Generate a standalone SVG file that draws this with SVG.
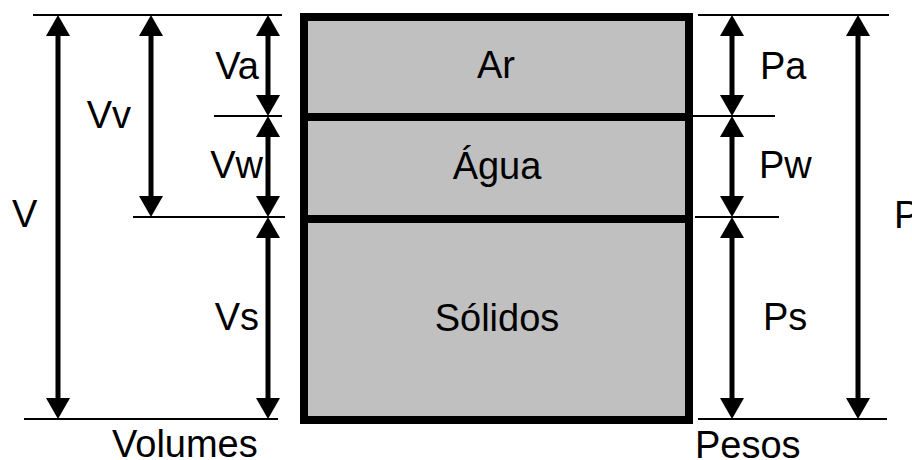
<svg xmlns="http://www.w3.org/2000/svg" width="912" height="460" viewBox="0 0 912 460">
<defs>
<style>
text{font-family:"Liberation Sans",Arial,sans-serif;font-size:38px;fill:#000}
.c{text-anchor:middle}
.e{text-anchor:end}
.thin{stroke:#000;stroke-width:2;fill:none}
.arr{stroke:#000;stroke-width:5;fill:none;marker-start:url(#ah);marker-end:url(#ah)}
.layer{fill:#C0C0C0;stroke:none}
.edge{stroke:#000;stroke-width:8;fill:none}
</style>
<marker id="ah" viewBox="0 0 21 24" markerWidth="21" markerHeight="24" markerUnits="userSpaceOnUse" refX="0" refY="12" orient="auto-start-reverse">
<path d="M0,0 L21,12 L0,24 Z" fill="#000"/>
</marker>
</defs>
<rect width="912" height="460" fill="#fff"/>
<g id="ar">
<rect class="layer" x="304" y="17" width="385" height="100"/>
<text class="c" x="496" y="78">Ar</text>
</g>
<g id="agua">
<rect class="layer" x="304" y="117" width="385" height="102"/>
<text class="c" x="497" y="179">Água</text>
</g>
<g id="solidos">
<rect class="layer" x="304" y="219" width="385" height="201"/>
<text class="c" x="497" y="331">Sólidos</text>
</g>
<g id="outline">
<rect class="edge" x="304" y="17" width="385" height="403"/>
<line class="edge" x1="304" y1="117" x2="689" y2="117"/>
<line class="edge" x1="304" y1="219" x2="689" y2="219"/>
</g>
<g id="connectors">
<line class="thin" x1="33" y1="15" x2="282" y2="15"/>
<line class="thin" x1="214" y1="116" x2="282" y2="116"/>
<line class="thin" x1="133" y1="217" x2="285" y2="217"/>
<line class="thin" x1="24" y1="419" x2="278" y2="419"/>
<line class="thin" x1="698" y1="15" x2="889" y2="15"/>
<line class="thin" x1="692" y1="116" x2="775" y2="116"/>
<line class="thin" x1="695" y1="217" x2="779" y2="217"/>
<line class="thin" x1="698" y1="419" x2="887" y2="419"/>
<line class="arr" x1="58" y1="36" x2="58" y2="398"/>
<line class="arr" x1="151" y1="36" x2="151" y2="196"/>
<line class="arr" x1="268" y1="36" x2="268" y2="95"/>
<line class="arr" x1="268" y1="137" x2="268" y2="196"/>
<line class="arr" x1="268" y1="238" x2="268" y2="398"/>
<line class="arr" x1="732" y1="36" x2="732" y2="95"/>
<line class="arr" x1="732" y1="137" x2="732" y2="196"/>
<line class="arr" x1="732" y1="238" x2="732" y2="398"/>
<line class="arr" x1="858" y1="36" x2="858" y2="398"/>
</g>
<g id="labels-volumes">
<text x="12" y="227">V</text>
<text class="e" x="131" y="128">Vv</text>
<text class="e" x="259" y="79">Va</text>
<text class="e" x="263" y="178">Vw</text>
<text class="e" x="259" y="330">Vs</text>
<text x="112" y="457">Volumes</text>
</g>
<g id="labels-pesos">
<text x="760" y="79">Pa</text>
<text x="759" y="178">Pw</text>
<text x="763" y="330">Ps</text>
<text x="894" y="228">P</text>
<text x="695" y="458">Pesos</text>
</g>
</svg>
